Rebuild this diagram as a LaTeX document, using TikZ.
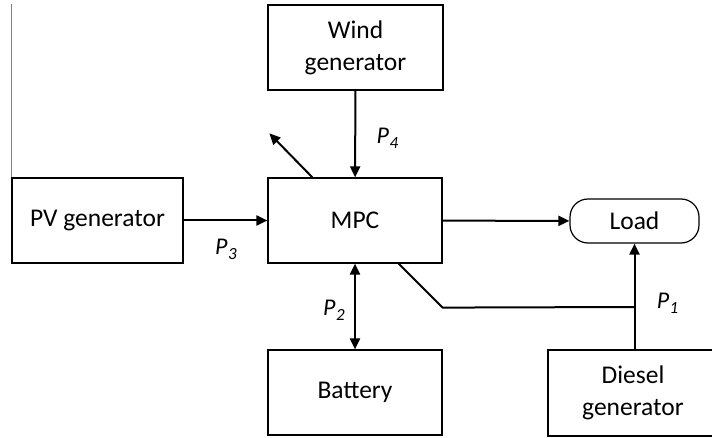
\documentclass[tikz,border=0pt]{standalone}
\usepackage{fontspec}
\setmainfont{Carlito}
\newcommand{\plab}[1]{{\fontsize{24}{28}\selectfont\itshape P\kern0.5pt\raisebox{-5pt}{\fontsize{17}{20}\selectfont #1}}}
\usetikzlibrary{arrows.meta,calc}
\begin{document}
\begin{tikzpicture}[x=1pt,y=-1pt,
  blockbox/.style={draw,line width=1.2pt,inner sep=0pt,minimum height=85pt,align=center,
    font=\fontsize{25.5}{32}\selectfont},
  loadbox/.style={draw,line width=1.2pt,rounded corners=18pt,inner sep=0pt,minimum width=129pt,minimum height=44pt,
    font=\fontsize{25.5}{32}\selectfont},
  flow/.style={line width=2pt,-{Triangle[length=11pt,width=10pt]}},
  biflow/.style={line width=2pt,{Triangle[length=11pt,width=10pt]}-{Triangle[length=11pt,width=10pt]}},
  wire/.style={line width=2pt},
  plabel/.style={inner sep=0pt}
]
\clip (0,0) rectangle (712,438);
\node[blockbox,minimum width=175pt] (wind) at (355.5,47.5) {Wind\\generator};
\node[blockbox,minimum width=174pt] (mpc) at (355,220.5) {MPC};
\node[blockbox,minimum width=174pt] (bat) at (355,392.5) {Battery};
\node[blockbox,minimum width=171pt] (pv) at (97.5,220.5) {PV generator};
\node[blockbox,minimum width=170pt,minimum height=86pt] (diesel) at (633,393) {Diesel\\generator};
\node[loadbox] (load) at (634.5,221) {Load};
% gray edge line
\draw[gray,line width=1.2pt] (pv.north west) -- ++(0,-173) coordinate (topedge);
% connectors
\draw[flow] (wind) -- (mpc);
\draw[flow] (pv) -- (mpc);
\draw[flow] (mpc) -- (load);
\draw[biflow] (mpc) -- (bat);
\draw[flow] (diesel.north -| load.south) -- (load.south);
\coordinate (junc) at (load.south |- 0,307);
\draw[wire] ($(mpc.south east)+(-44,0)$) -- ++(44,44) -- (junc);
\draw[flow] ($(mpc.north west)+(45,0)$) -- ++(-43,-44) coordinate (outtip);
% labels
\node[plabel] (p4) at (387.5,138) {\plab{4}};
\node[plabel] (p3) at (226,249) {\plab{3}};
\node[plabel] (p2) at (334,310) {\plab{2}};
\node[plabel] (p1) at (667.5,303) {\plab{1}};
\end{tikzpicture}
\end{document}
